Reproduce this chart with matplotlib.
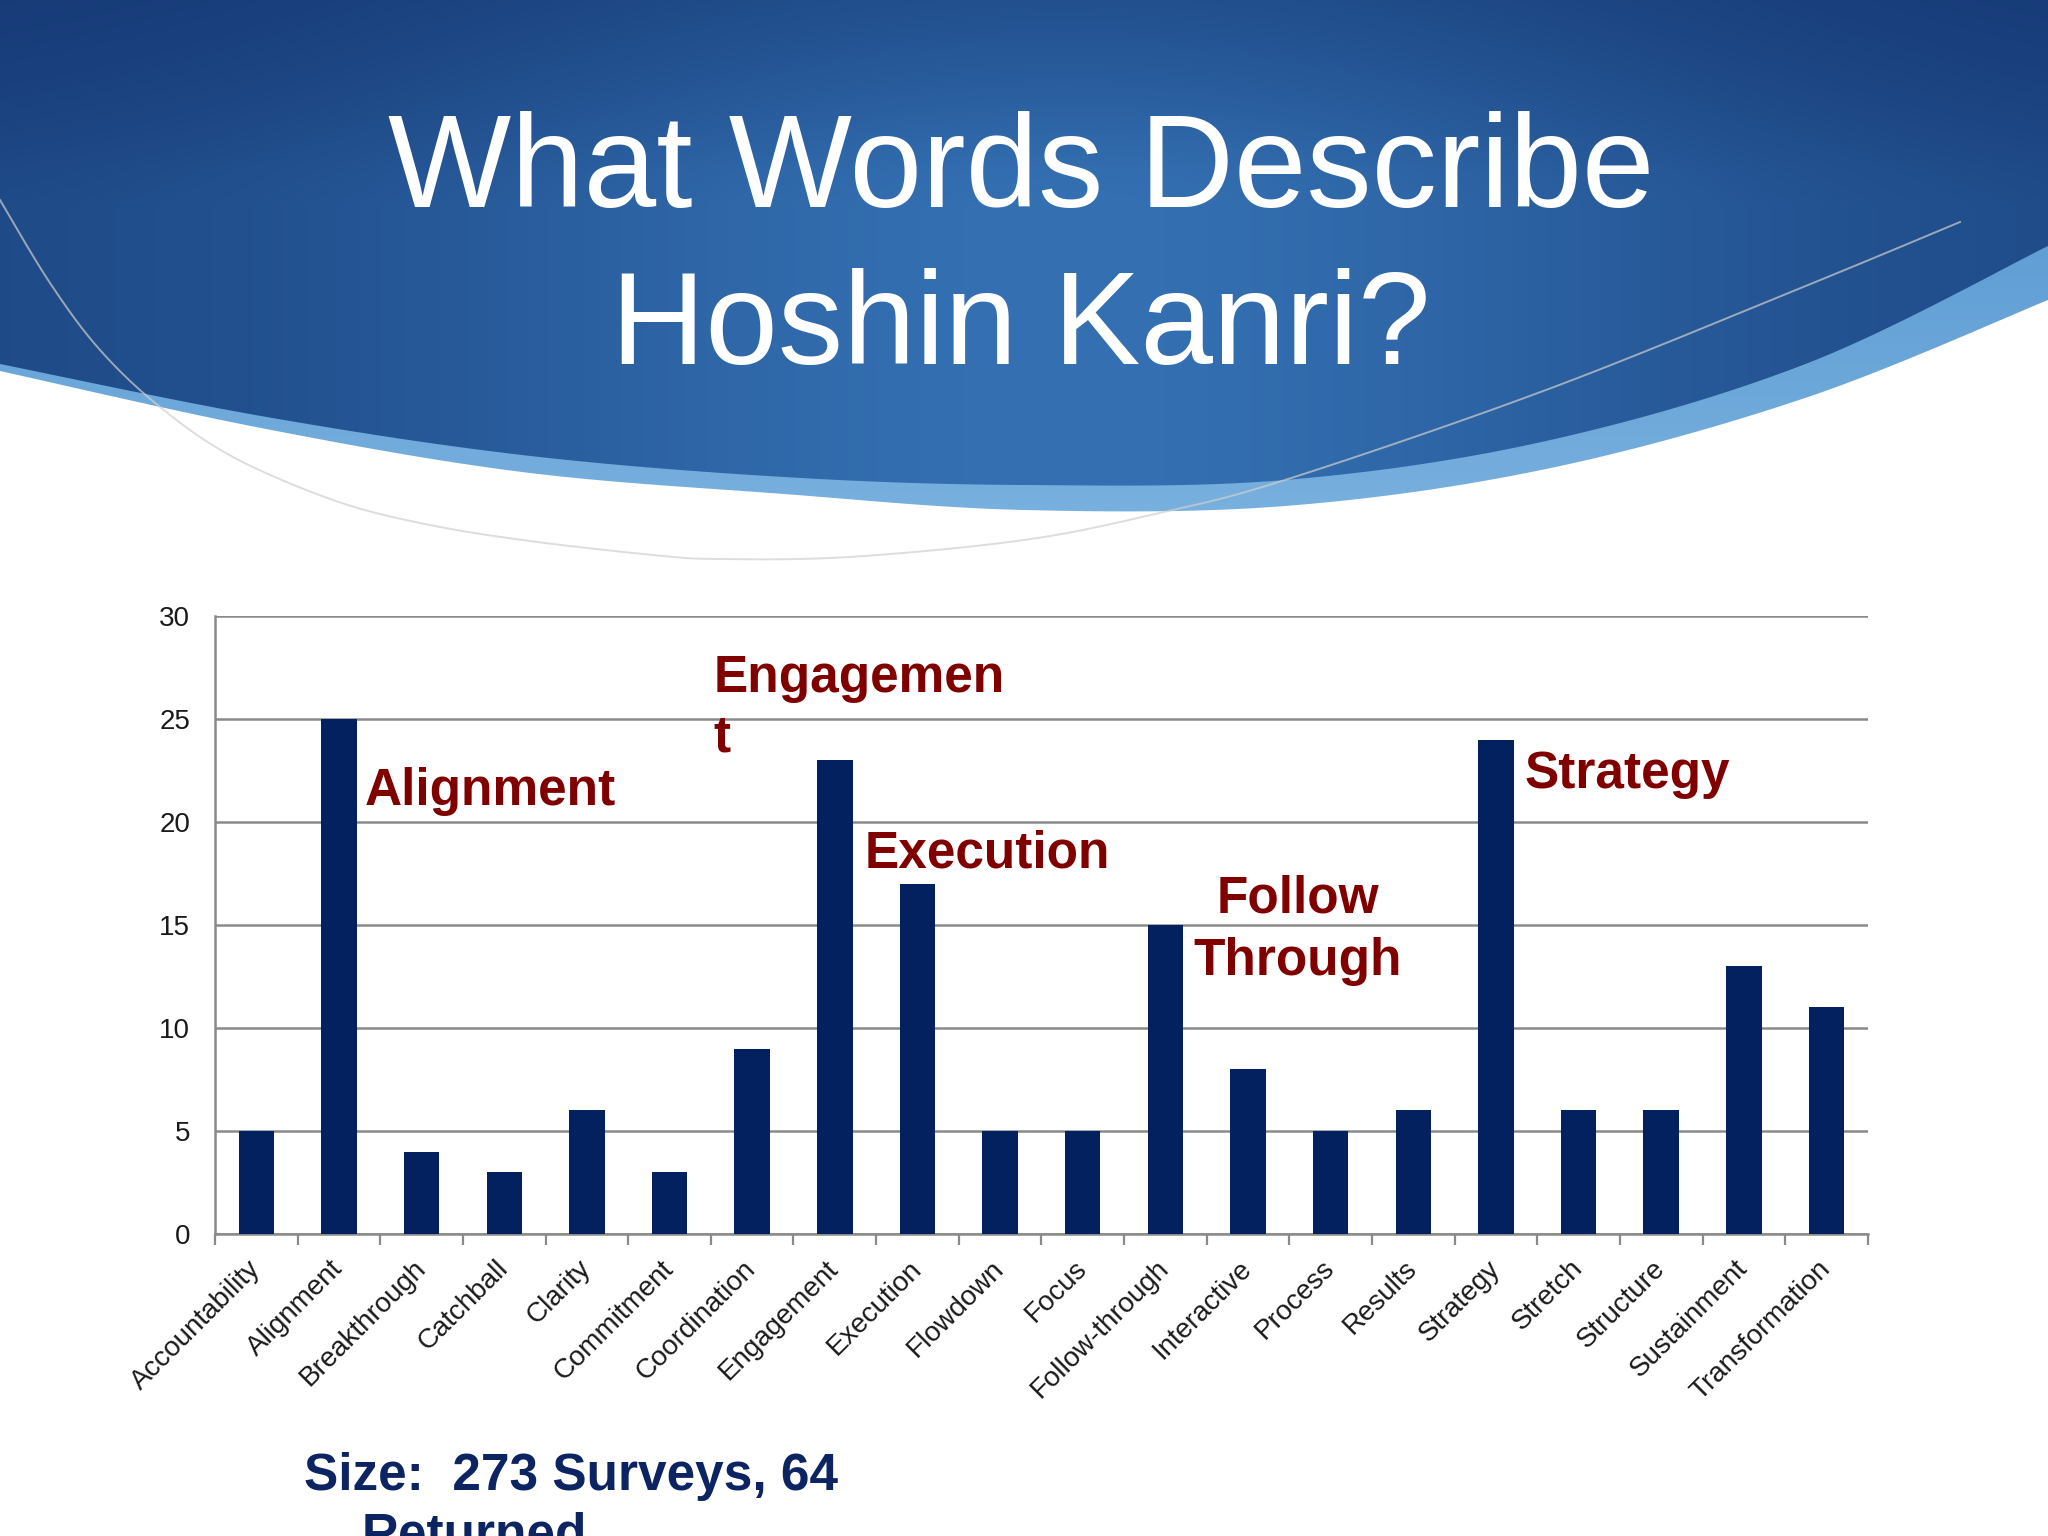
import numpy as np
import matplotlib
matplotlib.use("Agg")
import matplotlib.pyplot as plt
from matplotlib.path import Path
from matplotlib.patches import PathPatch

# ---------------- data ----------------
categories = ["Accountability", "Alignment", "Breakthrough", "Catchball", "Clarity",
              "Commitment", "Coordination", "Engagement", "Execution", "Flowdown",
              "Focus", "Follow-through", "Interactive", "Process", "Results",
              "Strategy", "Stretch", "Structure", "Sustainment", "Transformation"]
counts = [5, 25, 4, 3, 6, 3, 9, 23, 17, 5, 5, 15, 8, 5, 6, 24, 6, 6, 13, 11]
y_ticks = [0, 5, 10, 15, 20, 25, 30]
title_lines = ["What Words Describe", "Hoshin Kanri?"]
callouts = ["Alignment", "Engagemen", "t", "Execution", "Follow", "Through", "Strategy"]
footnote_lines = ["Size:  273 Surveys, 64", "Returned"]

W, H = 2048, 1536
plt.rcParams['font.family'] = ['Liberation Sans', 'DejaVu Sans']
fig = plt.figure(figsize=(W / 100, H / 100), dpi=100)
fig.patch.set_facecolor('white')

# ---------------- background swoosh ----------------
bg = fig.add_axes([0, 0, 1, 1], zorder=0)
bg.axis('off')


def catmull(pts, n=40):
    pts = np.asarray(pts, float)
    p = np.vstack([pts[0], pts, pts[-1]])
    out = []
    for i in range(1, len(p) - 2):
        p0, p1, p2, p3 = p[i - 1], p[i], p[i + 1], p[i + 2]
        t = np.linspace(0, 1, n, endpoint=False)[:, None]
        out.append(0.5 * ((2 * p1) + (-p0 + p2) * t + (2 * p0 - 5 * p1 + 4 * p2 - p3) * t ** 2
                          + (-p0 + 3 * p1 - 3 * p2 + p3) * t ** 3))
    out.append(pts[-1][None, :])
    return np.vstack(out)


dark_edge = catmull([(0, 364), (261, 416), (522, 455), (784, 477), (1024, 485),
                     (1285, 480), (1546, 441), (1808, 363), (2048, 246)])
light_edge = catmull([(0, 371), (261, 428), (522, 472), (784, 494), (1024, 510),
                      (1285, 506), (1546, 469), (1808, 397), (2048, 300)])


def region(edge):
    verts = np.vstack([[[0, 0]], edge, [[W, 0]], [[0, 0]]])
    codes = [Path.MOVETO] + [Path.LINETO] * (len(verts) - 2) + [Path.CLOSEPOLY]
    return Path(verts, codes)


# gradient image for the dark blue area
gx = np.linspace(0, 1, 256)[None, :]
gy = np.linspace(0, 1, 200)[:, None] * (H / 560.0)
dark = np.array([0x16, 0x3a, 0x76]) / 255
mid = np.array([0x34, 0x70, 0xb2]) / 255
f = 0.75 * np.exp(-((gx - 0.52) / 0.33) ** 2) + 0.25 * np.clip(gy, 0, 1)
f = f * (0.55 + 0.45 * np.clip(gy * 1.2, 0, 1))
f = np.clip(f, 0, 1)
img = dark[None, None, :] + (mid - dark)[None, None, :] * f[..., None]
im = bg.imshow(img, extent=[0, W, 560, 0], aspect='auto', zorder=2, interpolation='bilinear')
p_dark = PathPatch(region(dark_edge), transform=bg.transData, facecolor='none', edgecolor='none')
bg.add_patch(p_dark)
im.set_clip_path(p_dark)

# lighter band beneath
band = np.array([0x5c, 0x9b, 0xd3]) / 255
band2 = np.array([0x7c, 0xb3, 0xe0]) / 255
fb = np.clip(np.linspace(0, 1, 200)[:, None] + 0 * np.linspace(0, 1, 256)[None, :], 0, 1)
img2 = band[None, None, :] + (band2 - band)[None, None, :] * fb[..., None]
im2 = bg.imshow(img2, extent=[0, W, 560, 200], aspect='auto', zorder=1, interpolation='bilinear')
p_light = PathPatch(region(light_edge), transform=bg.transData, facecolor='none', edgecolor='none')
bg.add_patch(p_light)
im2.set_clip_path(p_light)

# thin grey arc
arc = catmull([(0, 200), (50, 283), (100, 350), (160, 407), (233, 457), (333, 500),
               (420, 523), (522, 540), (653, 555), (718, 559), (849, 557), (1024, 540),
               (1155, 514), (1285, 480), (1546, 390), (1808, 285), (1960, 222)])
bg.plot(arc[:, 0], arc[:, 1], color='#cfcfcf', lw=1.4, alpha=0.7, zorder=3)
bg.set_xlim(0, W)
bg.set_ylim(H, 0)

# title
title_baselines = [1 - 207 / H, 1 - 364 / H]
for line, yb in zip(title_lines, title_baselines):
    fig.text(0.4985, yb, line, ha='center', va='baseline', color='white', fontsize=94,
             zorder=5)

# ---------------- bar chart ----------------
ax = fig.add_axes([0.105, 0.1966, 0.807, 0.4024], zorder=2)
ax.set_facecolor('none')
x = np.arange(len(categories))
ax.bar(x, counts, width=0.43, color='#03215f', zorder=3)
ax.set_xlim(-0.5, len(categories) - 0.5)
ax.set_ylim(0, 30)
ax.set_yticks(y_ticks)
ax.yaxis.grid(True, color='#8a8a8a', lw=1.8, zorder=1)
ax.set_axisbelow(True)
for s in ['top', 'right']:
    ax.spines[s].set_visible(False)
for s in ['left', 'bottom']:
    ax.spines[s].set_color('#8a8a8a')
    ax.spines[s].set_linewidth(1.8)
ax.tick_params(axis='y', length=0, pad=18, labelsize=20, labelcolor='#1a1a1a')
ax.set_xticks(x)
ax.set_xticklabels(categories, rotation=45, ha='right', va='center',
                   rotation_mode='anchor', fontsize=20, color='#1a1a1a')
ax.tick_params(axis='x', which='major', length=0, pad=22)
ax.set_xticks(np.arange(-0.5, len(categories)), minor=True)
ax.tick_params(axis='x', which='minor', length=8, width=1.6, color='#8a8a8a', direction='out')

# callouts (dark red)
red = '#800000'
ck = dict(color=red, fontsize=37, fontweight='bold', va='baseline', ha='left', zorder=6)
ax.text(1.31, 20.8, callouts[0], **ck)
ax.text(5.53, 26.33, callouts[1], **ck)
ax.text(5.53, 23.4, callouts[2], **ck)
ax.text(7.36, 17.77, callouts[3], **ck)
ax.text(12.6, 15.6, callouts[4], **{**ck, 'ha': 'center'})
ax.text(12.6, 12.57, callouts[5], **{**ck, 'ha': 'center'})
ax.text(15.35, 21.67, callouts[6], **ck)

# footnote
fig.text(304 / W, 1 - 1490 / H, footnote_lines[0], color='#0d2463', fontsize=37,
         fontweight='bold', ha='left', va='baseline')
fig.text(362 / W, 1 - 1550 / H, footnote_lines[1], color='#0d2463', fontsize=37,
         fontweight='bold', ha='left', va='baseline')

fig.savefig('out.png', dpi=100)
